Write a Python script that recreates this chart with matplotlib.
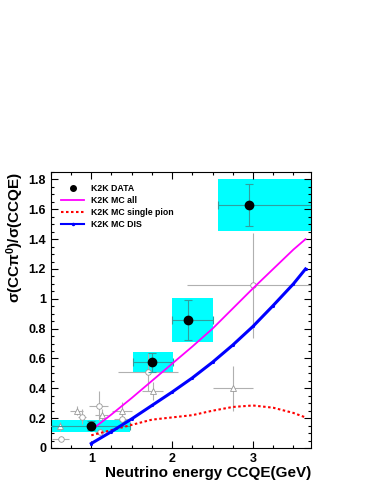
import numpy as np
import matplotlib.pyplot as plt
from matplotlib.patches import Rectangle
from matplotlib.ticker import MultipleLocator

plt.rcParams['font.family'] = ['Liberation Sans', 'DejaVu Sans']
plt.rcParams['font.weight'] = 'bold'
plt.rcParams['mathtext.fontset'] = 'custom'
plt.rcParams['mathtext.rm'] = 'Liberation Sans:bold'
plt.rcParams['mathtext.it'] = 'Liberation Sans:bold'
plt.rcParams['mathtext.bf'] = 'Liberation Sans:bold'

# ===== K2K data (black points, cyan = systematic band) =====
data_x = [1.0, 1.75, 2.2, 2.95]
data_y = [0.15, 0.575, 0.86, 1.63]
data_stat = [0.03, 0.065, 0.135, 0.14]
bin_lo = [0.49, 1.51, 2.0, 2.565]
bin_hi = [1.48, 2.01, 2.5, 3.9]
sys_lo = [0.105, 0.50, 0.713, 1.456]
sys_hi = [0.19, 0.646, 1.005, 1.80]

# ===== MC curves =====
mc_e = [1.0, 1.25, 1.5, 1.75, 2.0, 2.25, 2.5, 2.75, 3.0, 3.25, 3.5, 3.65]
mc_all = [0.12, 0.225, 0.335, 0.45, 0.565, 0.68, 0.80, 0.935, 1.07, 1.20, 1.33, 1.40]
mc_pion = [0.085, 0.12, 0.155, 0.19, 0.205, 0.22, 0.25, 0.275, 0.285, 0.27, 0.235, 0.205]
mc_dis = [0.03, 0.11, 0.195, 0.285, 0.375, 0.47, 0.575, 0.69, 0.815, 0.955, 1.10, 1.20]

# ===== other experiments (grey open markers) =====
circ_x = [0.62, 0.88, 1.09, 1.11, 1.38, 1.70, 3.0]
circ_y = [0.06, 0.21, 0.28, 0.11, 0.195, 0.51, 1.09]
circ_xerr = [0.1, 0.05, 0.12, 0.06, 0.1, 0.37, 0.82]
circ_yerr = [0.01, 0.05, 0.10, 0.02, 0.04, 0.13, 0.35]
tri_x = [0.61, 0.82, 1.13, 1.38, 1.76, 2.75]
tri_y = [0.145, 0.25, 0.22, 0.245, 0.38, 0.40]
tri_xerr = [0.06, 0.08, 0.08, 0.12, 0.13, 0.25]
tri_yerr = [0.03, 0.03, 0.04, 0.06, 0.06, 0.15]


def main() -> None:
    fig = plt.figure(figsize=(3.74, 4.84), dpi=100)
    ax = fig.add_axes([0.136, 0.0744, 0.696, 0.5702])

    # systematic boxes
    for lo, hi, ylo, yhi in zip(bin_lo, bin_hi, sys_lo, sys_hi):
        ax.add_patch(Rectangle((lo, ylo), hi - lo, yhi - ylo,
                               facecolor='#00ffff', edgecolor='none', zorder=1))

    # other experiments
    ax.errorbar(circ_x, circ_y, xerr=circ_xerr, yerr=circ_yerr, fmt='o',
                ms=4, mfc='white', mec='#999999', mew=0.6,
                ecolor='#b0b0b0', elinewidth=0.8, capsize=0, zorder=2)
    ax.errorbar(tri_x, tri_y, xerr=tri_xerr, yerr=tri_yerr, fmt='^',
                ms=4, mfc='white', mec='#999999', mew=0.6,
                ecolor='#b0b0b0', elinewidth=0.8, capsize=0, zorder=2)

    # K2K data statistical errors
    xerr = [np.array(data_x) - np.array(bin_lo), np.array(bin_hi) - np.array(data_x)]
    ax.errorbar(data_x, data_y, xerr=xerr, yerr=data_stat, fmt='none',
                ecolor='#2f9f9f', elinewidth=0.8, capsize=3, capthick=0.8, zorder=3)

    ax.plot(mc_e, mc_all, color='#ff00ff', lw=1.3, zorder=4)
    ax.plot(mc_e, mc_pion, color='#ff0000', lw=1.5, ls=(0, (1.2, 1.2)), zorder=4)
    ax.plot(mc_e, mc_dis, color='#0000ff', lw=2.2, marker='.', ms=2.5, zorder=4)
    ax.plot(data_x, data_y, 'o', color='black', ms=6, zorder=5)

    # legend
    h_data, = ax.plot([], [], 'o', color='black', ms=4)
    h_all, = ax.plot([], [], color='#ff00ff', lw=1.3)
    h_pion, = ax.plot([], [], color='#ff0000', lw=1.5, ls=(0, (1.2, 1.2)))
    h_dis, = ax.plot([], [], color='#0000ff', lw=1.5, marker='.', ms=3)
    ax.legend([h_data, h_all, h_pion, h_dis],
              ['K2K DATA', 'K2K MC all', 'K2K MC single pion', 'K2K MC DIS'],
              loc='upper left', bbox_to_anchor=(0.01, 0.985), frameon=False,
              handlelength=2.6, labelspacing=0.35,
              prop={'weight': 'bold', 'size': 6.3})

    ax.set_xlim(0.5, 3.72)
    ax.set_ylim(0, 1.85)
    ax.xaxis.set_major_locator(MultipleLocator(1))
    ax.xaxis.set_minor_locator(MultipleLocator(0.25))
    ax.yaxis.set_minor_locator(MultipleLocator(0.05))
    ax.set_yticks([0, 0.2, 0.4, 0.6, 0.8, 1, 1.2, 1.4, 1.6, 1.8])
    ax.set_yticklabels(['0', '0.2', '0.4', '0.6', '0.8', '1', '1.2', '1.4', '1.6', '1.8'])
    ax.tick_params(which='both', direction='in', top=True, right=True,
                   labelsize=9, width=0.8)
    ax.tick_params(which='major', length=5)
    ax.tick_params(which='minor', length=2.5)
    for lab in ax.get_xticklabels() + ax.get_yticklabels():
        lab.set_fontweight('bold')
    for sp in ax.spines.values():
        sp.set_linewidth(0.8)

    ax.set_xlabel('Neutrino energy CCQE(GeV)', fontsize=11, fontweight='bold',
                  loc='right', labelpad=1)
    ax.set_ylabel(r'$\mathrm{\sigma(CC\pi^{0})/\sigma(CCQE)}$', fontsize=11,
                  loc='top', labelpad=2)

    fig.savefig('out.png', dpi=100)


if __name__ == "__main__":
    main()
